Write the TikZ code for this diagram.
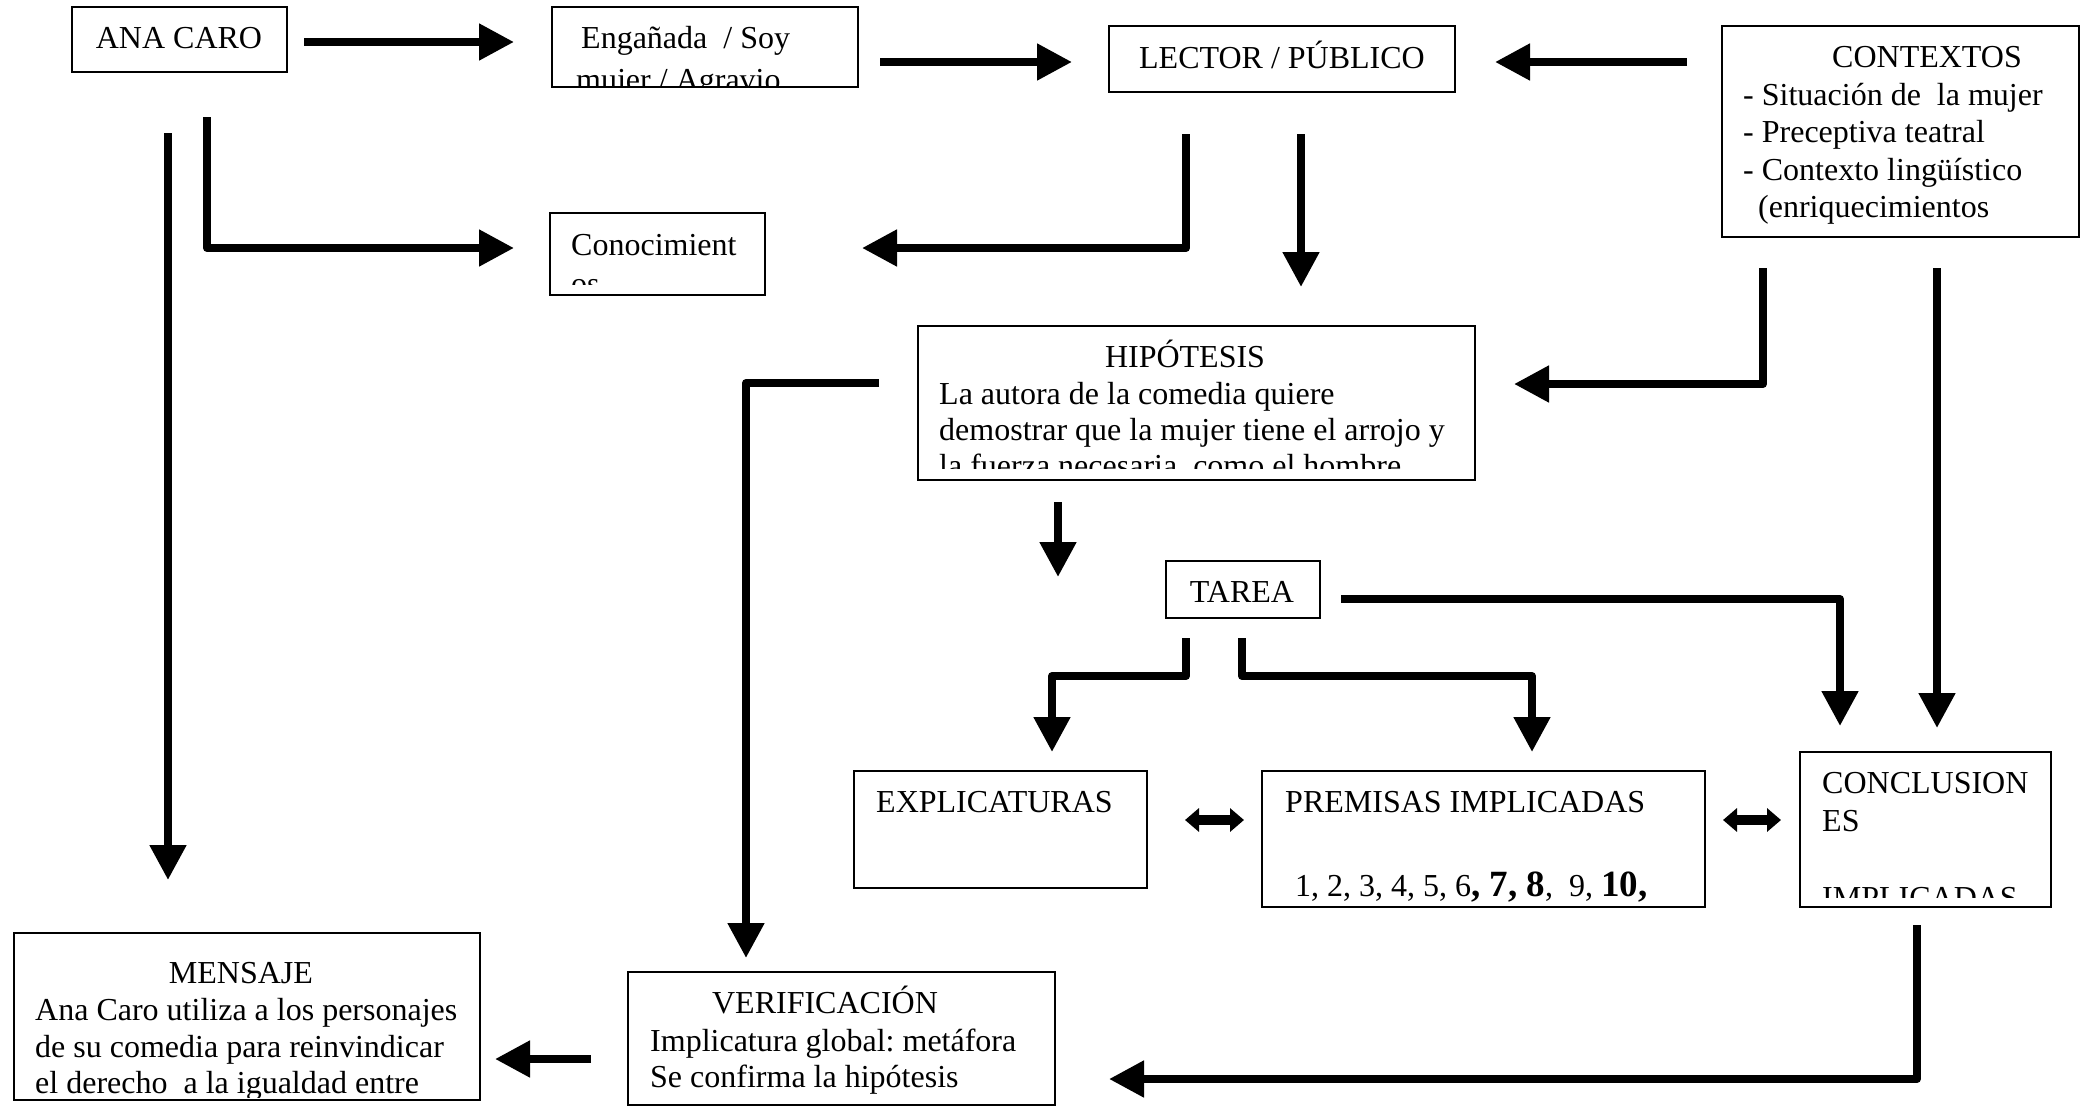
\documentclass[tikz,border=0pt]{standalone}
\usepackage{fontspec}
\setmainfont{Liberation Serif}
\usetikzlibrary{arrows.meta}
\begin{document}
\frenchspacing
\fontsize{32}{37}\selectfont
\begin{tikzpicture}[x=1pt,y=-1pt,
  box/.style={draw, line width=2pt, inner sep=0pt, fill=none},
  txt/.style={inner sep=0pt, anchor=base west},
  ctxt/.style={inner sep=0pt, anchor=base},
  conn/.style={line width=8pt, line join=round, -{Triangle[length=35pt,width=35pt]}},
  dbl/.style={line width=10pt, {Triangle[length=14pt,width=23pt]}-{Triangle[length=14pt,width=23pt]}},
  big/.style={font=\fontsize{37}{37}\selectfont\bfseries}
]
\useasboundingbox[fill=white] (0,0) rectangle (2081,1106);

% ---- boxes ----
\node[box, minimum width=215pt, minimum height=65pt]  (ana)     at (179.5,39.5)  {};
\node[box, minimum width=306pt, minimum height=80pt]  (eng)     at (705,47)      {};
\node[box, minimum width=346pt, minimum height=66pt]  (lector)  at (1282,59)     {};
\node[box, minimum width=357pt, minimum height=211pt] (ctx)     at (1900.5,131.5){};
\node[box, minimum width=215pt, minimum height=82pt]  (conoc)   at (657.5,254)   {};
\node[box, minimum width=557pt, minimum height=154pt] (hip)     at (1196.5,403)  {};
\node[box, minimum width=154pt, minimum height=57pt]  (tarea)   at (1243,589.5)  {};
\node[box, minimum width=293pt, minimum height=117pt] (expl)    at (1000.5,829.5){};
\node[box, minimum width=443pt, minimum height=136pt] (prem)    at (1483.5,839)  {};
\node[box, minimum width=251pt, minimum height=155pt] (concl)   at (1925.5,829.5){};
\node[box, minimum width=466pt, minimum height=167pt] (mensaje) at (247,1016.5)  {};
\node[box, minimum width=427pt, minimum height=133pt] (verif)   at (841.5,1038.5){};

% ---- texts ----
\node[ctxt] (ana-t) at (179,48) {ANA CARO};
\begin{scope}
  \clip (552,7) rectangle (858,86);
  \node[txt] (eng-t1) at (581,48) {Engañada~ / Soy};
  \node[txt] (eng-t2) at (576,90) {mujer / Agravio};
\end{scope}
\node[ctxt] (lector-t) at (1282,68) {LECTOR / PÚBLICO};
\node[ctxt] (ctx-t0) at (1927,67) {CONTEXTOS};
\node[txt] (ctx-t1) at (1743,105) {- Situación de~ la mujer};
\node[txt] (ctx-t2) at (1743,142) {- Preceptiva teatral};
\node[txt] (ctx-t3) at (1743,180) {- Contexto lingüístico};
\node[txt] (ctx-t4) at (1758,217) {(enriquecimientos};
\begin{scope}
  \clip (550,213) rectangle (765,284);
  \node[txt] (conoc-t1) at (571,255) {Conocimient};
  \node[txt] (conoc-t2) at (571,294) {os};
\end{scope}
\node[ctxt] (hip-t0) at (1185,367) {HIPÓTESIS};
\begin{scope}
  \clip (918,326) rectangle (1475,468);
  \node[txt] (hip-t1) at (939,404) {La autora de la comedia quiere};
  \node[txt] (hip-t2) at (939,440) {demostrar que la mujer tiene el arrojo y};
  \node[txt] (hip-t3) at (939,476) {la fuerza necesaria, como el hombre};
\end{scope}
\node[ctxt] (tarea-t) at (1242,602) {TAREA};
\node[txt] (expl-t) at (876,812) {EXPLICATURAS};
\node[txt] (prem-t1) at (1285,812) {PREMISAS IMPLICADAS};
\node[txt] (prem-t2) at (1295,896) {1, 2, 3, 4, 5, 6{\fontsize{37}{37}\selectfont\bfseries, 7, 8}, ~9, {\fontsize{37}{37}\selectfont\bfseries 10,}};
\begin{scope}
  \clip (1800,752) rectangle (2051,897);
  \node[txt] (concl-t1) at (1822,793) {CONCLUSION};
  \node[txt] (concl-t2) at (1822,831) {ES};
  \node[txt] (concl-t3) at (1822,908) {IMPLICADAS};
\end{scope}
\node[ctxt] (mensaje-t0) at (241,983) {MENSAJE};
\begin{scope}
  \clip (14,933) rectangle (480,1097);
  \node[txt] (mensaje-t1) at (35,1020) {Ana Caro utiliza a los personajes};
  \node[txt] (mensaje-t2) at (35,1057) {de su comedia para reinvindicar};
  \node[txt] (mensaje-t3) at (35,1093) {el derecho~ a la igualdad entre};
\end{scope}
\node[ctxt] (verif-t0) at (825,1013) {VERIFICACIÓN};
\node[txt] (verif-t1) at (650,1051) {Implicatura global: metáfora};
\node[txt] (verif-t2) at (650,1087) {Se confirma la hipótesis};

% ---- connector end points ----
\coordinate (ana-r)    at (304,42);   \coordinate (eng-l)     at (514,42);
\coordinate (eng-r)    at (880,62);   \coordinate (lector-l)  at (1072,62);
\coordinate (ctx-l)    at (1687,62);  \coordinate (lector-r)  at (1495,62);
\coordinate (ana-b1)   at (207,117);  \coordinate (conoc-l)   at (514,248);
\coordinate (ana-b2)   at (168,133);  \coordinate (mensaje-u) at (168,880);
\coordinate (lector-b1) at (1186,134); \coordinate (conoc-r)  at (862,248);
\coordinate (lector-b2) at (1301,134); \coordinate (hip-u)    at (1301,287);
\coordinate (ctx-b1)   at (1763,268); \coordinate (hip-r)     at (1514,384);
\coordinate (ctx-b2)   at (1937,268); \coordinate (concl-u1)  at (1937,728);
\coordinate (hip-l)    at (879,383);  \coordinate (verif-u)   at (746,958);
\coordinate (hip-b)    at (1058,502); \coordinate (hip-bt)    at (1058,577);
\coordinate (tarea-r)  at (1341,599); \coordinate (concl-u2)  at (1840,726);
\coordinate (tarea-b1) at (1186,638); \coordinate (expl-u)    at (1052,752);
\coordinate (tarea-b2) at (1242,638); \coordinate (prem-u)    at (1532,752);
\coordinate (concl-b)  at (1917,925); \coordinate (verif-r)   at (1109,1079);
\coordinate (verif-l)  at (591,1059); \coordinate (mensaje-r) at (495,1059);
\coordinate (expl-d)   at (1185,820); \coordinate (prem-d1)   at (1244,820);
\coordinate (prem-d2)  at (1723,820); \coordinate (concl-d)   at (1781,820);

% ---- connectors ----
\draw[conn] (ana-r) -- (eng-l);
\draw[conn] (eng-r) -- (lector-l);
\draw[conn] (ctx-l) -- (lector-r);
\draw[conn] (ana-b1) |- (conoc-l);
\draw[conn] (ana-b2) -- (mensaje-u);
\draw[conn] (lector-b1) |- (conoc-r);
\draw[conn] (lector-b2) -- (hip-u);
\draw[conn] (ctx-b1) |- (hip-r);
\draw[conn] (ctx-b2) -- (concl-u1);
\draw[conn] (hip-l) -| (verif-u);
\draw[conn] (hip-b) -- (hip-bt);
\draw[conn] (tarea-r) -| (concl-u2);
\draw[conn] (tarea-b1) -- (tarea-b1 |- 0,676) -| (expl-u);
\draw[conn] (tarea-b2) -- (tarea-b2 |- 0,676) -| (prem-u);
\draw[conn] (concl-b) |- (verif-r);
\draw[conn] (verif-l) -- (mensaje-r);
\draw[dbl] (expl-d) -- (prem-d1);
\draw[dbl] (prem-d2) -- (concl-d);
\end{tikzpicture}
\end{document}
